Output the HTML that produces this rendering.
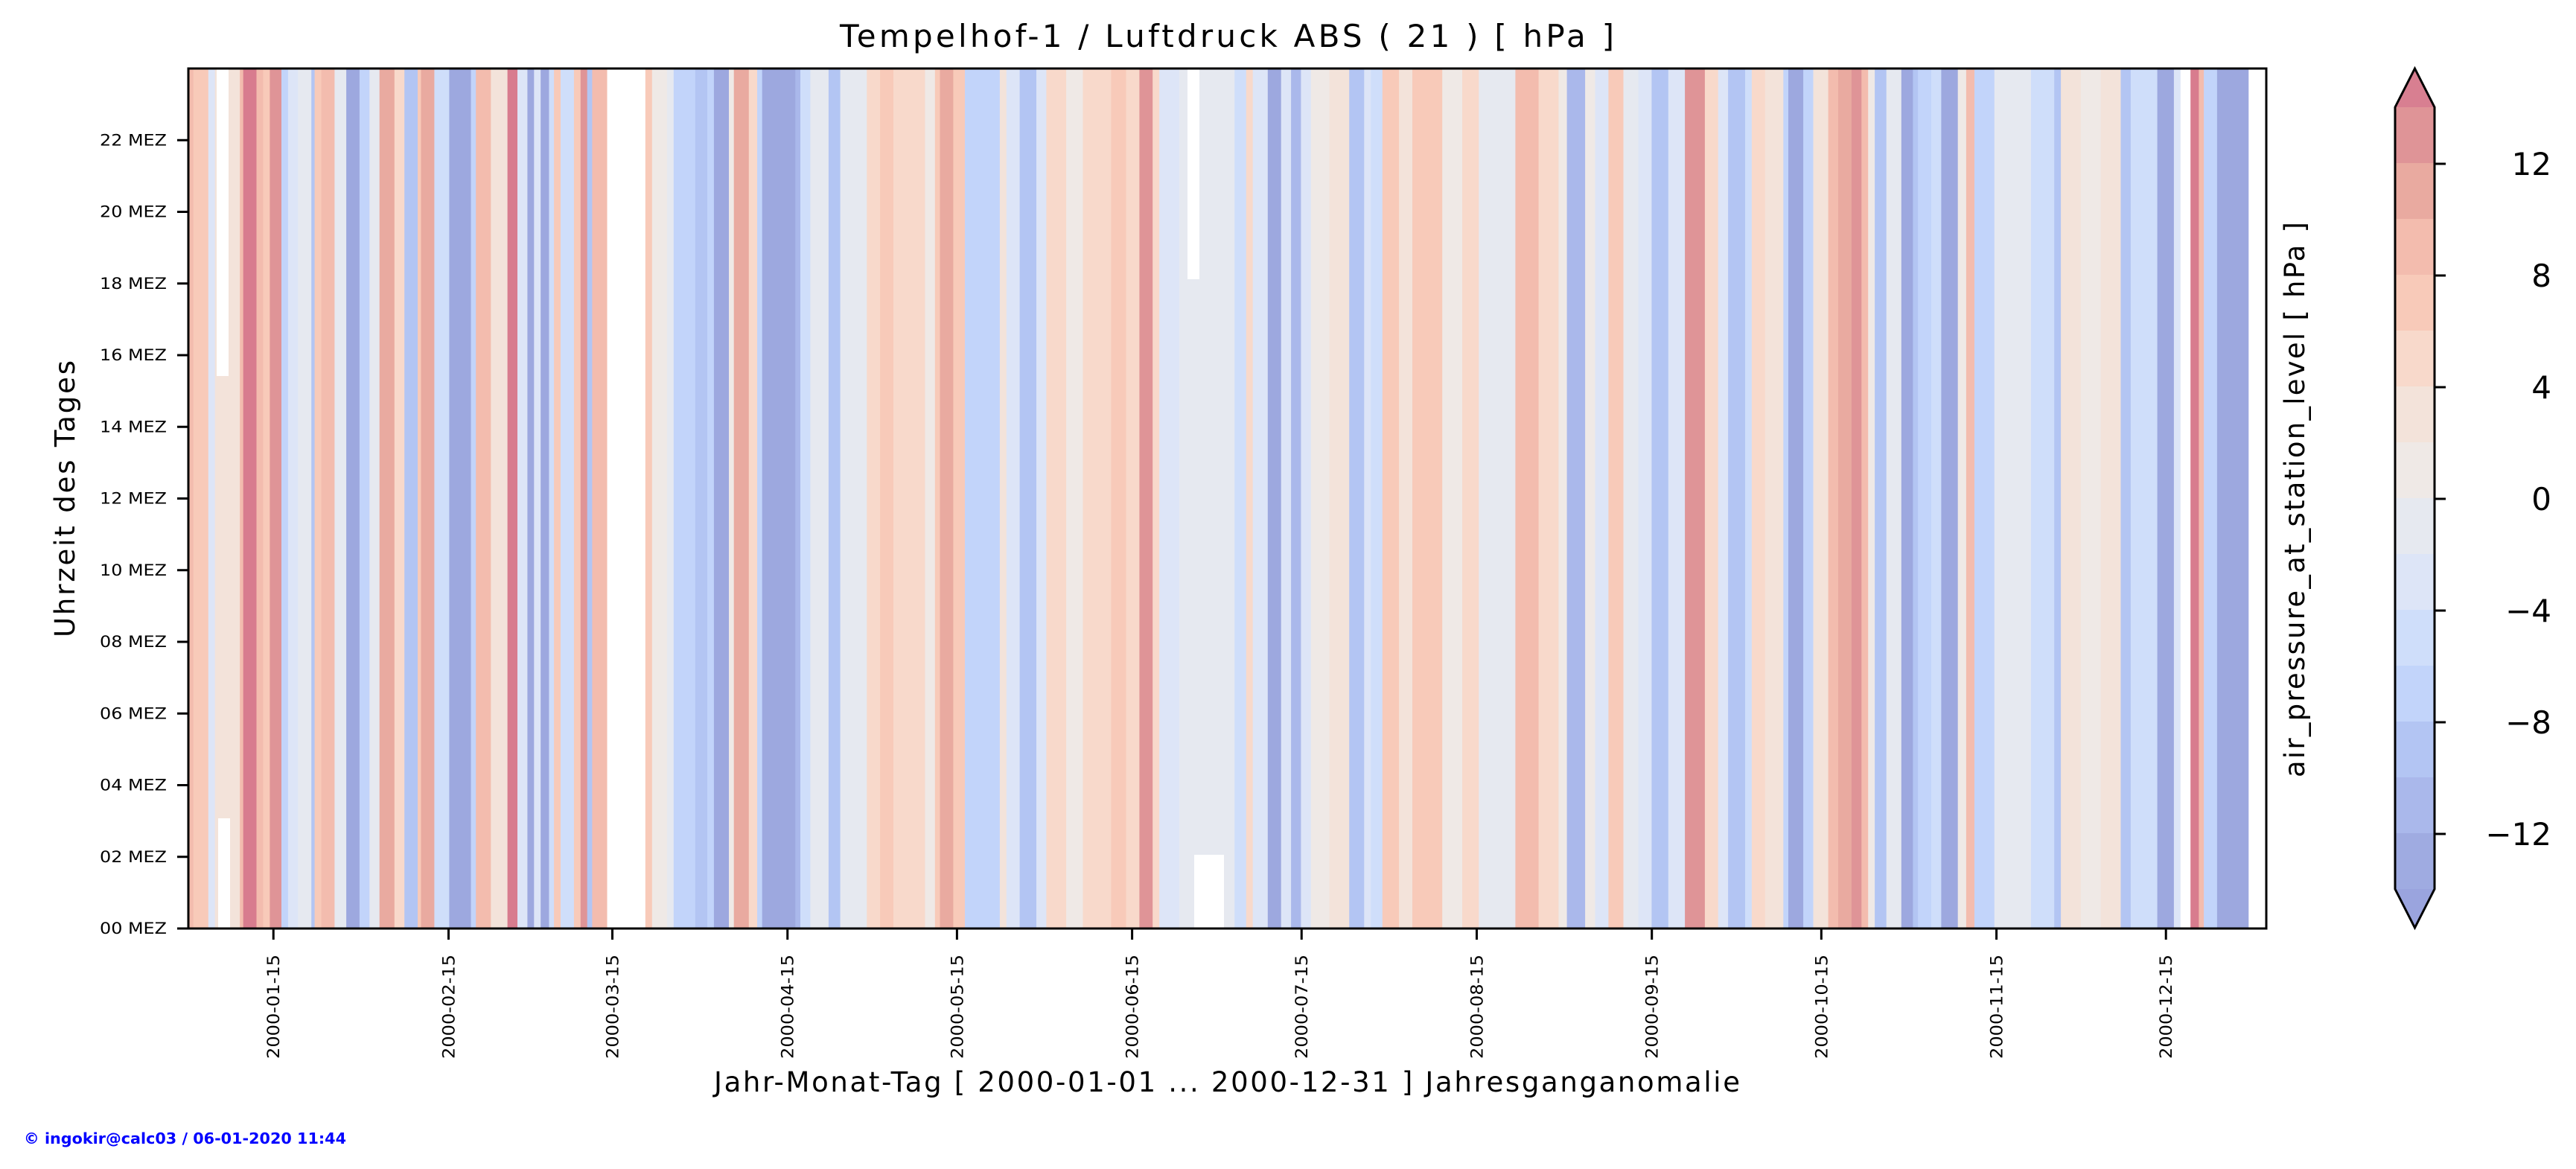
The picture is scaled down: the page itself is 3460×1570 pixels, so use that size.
<!DOCTYPE html>
<html><head><meta charset="utf-8"><style>
html,body{margin:0;padding:0;background:#fff;}
svg{display:block;font-family:"DejaVu Sans","Liberation Sans",sans-serif;}
</style></head><body>
<svg id="s" width="3460" height="1570" viewBox="0 0 3460 1570" xmlns="http://www.w3.org/2000/svg">
<g id="data"></g>
<rect x="253" y="92" width="2791" height="1155" fill="none" stroke="#000" stroke-width="3"/>
<text x="1648" y="63" font-size="42" text-anchor="middle" textLength="1040">Tempelhof-1 / Luftdruck ABS ( 21 ) [ hPa ]</text>
<text x="1648" y="1466" font-size="37" text-anchor="middle" textLength="1378">Jahr-Monat-Tag [ 2000-01-01 ... 2000-12-31 ] Jahresganganomalie</text>
<text transform="translate(100,670) rotate(-90)" font-size="37" text-anchor="middle" textLength="372">Uhrzeit des Tages</text>
<text transform="translate(3095,671) rotate(-90)" font-size="37" text-anchor="middle" textLength="746">air_pressure_at_station_level [ hPa ]</text>
<text x="32" y="1536" font-size="20" font-weight="bold" fill="#0000ff" textLength="433" lengthAdjust="spacingAndGlyphs">© ingokir@calc03 / 06-01-2020 11:44</text>
<g id="yt"></g><g id="xt"></g><g id="cb"></g>
</svg>
<script>
const NS="http://www.w3.org/2000/svg";
function el(p,t,a,txt){const e=document.createElementNS(NS,t);for(const k in a)e.setAttribute(k,a[k]);if(txt!==undefined)e.textContent=txt;p.appendChild(e);return e;}
const C={R7:"#d87c8e",R6:"#df9497",R5:"#e9aaa0",R4:"#f3bcae",R3:"#f8cab9",R2:"#f8d9cb",R1:"#f3e3da",R0:"#efe9e6",B0:"#e6e9f0",B1:"#dde5f7",B2:"#cfdefa",B3:"#c2d4fa",B4:"#b3c5f3",B5:"#aab8eb",B6:"#9da8df",W:"#ffffff"};
const S=[
[253,[[0,15,'R4'],[15,60,'R3'],[60,80,'B1'],[80,155,'R1'],[155,165,'R4'],[165,205,'R7'],[205,225,'R4'],[225,245,'R3'],[245,280,'R6'],[280,300,'B3'],[300,330,'B1'],[330,370,'B0'],[370,380,'B4'],[380,400,'R3'],[400,440,'R4'],[440,475,'B0'],[475,515,'B6'],[515,545,'B3'],[545,575,'B0'],[575,620,'R5'],[620,650,'R2'],[650,690,'B4'],[690,700,'R3'],[700,740,'R5'],[740,785,'B2'],[785,850,'B6'],[850,865,'B3'],[865,910,'R4'],[910,960,'R1'],[960,990,'R7'],[990,1020,'B1'],[1020,1040,'B6'],[1040,1060,'B1'],[1060,1085,'B6'],[1085,1100,'B2'],[1100,1120,'R3'],[1120,1160,'B2'],[1160,1180,'R3'],[1180,1200,'R6'],[1200,1215,'B4'],[1215,1260,'R4'],[1260,1375,'W'],[1375,1395,'R3'],[1395,1440,'R0'],[1440,1460,'B0'],[1460,1525,'B3'],[1525,1568,'B4']]],
[950,[[0,20,'B3'],[20,65,'B6'],[65,80,'R0'],[80,125,'R5'],[125,150,'R2'],[150,165,'B3'],[165,265,'B6'],[265,280,'B5'],[280,310,'B2'],[310,365,'B0'],[365,400,'B4'],[400,480,'B0'],[480,520,'R2'],[520,560,'R3'],[560,655,'R2'],[655,685,'R0'],[685,700,'R3'],[700,740,'R5'],[740,775,'R3'],[775,880,'B3'],[880,900,'R1'],[900,940,'B1'],[940,990,'B4'],[990,1020,'B1'],[1020,1080,'R2'],[1080,1130,'R0'],[1130,1215,'R2'],[1215,1260,'R3'],[1260,1300,'R2'],[1300,1340,'R6'],[1340,1360,'R2'],[1360,1420,'B1'],[1420,1568,'B0']]],
[1647,[[0,25,'B0'],[25,60,'B2'],[60,80,'R2'],[80,125,'B1'],[125,165,'B6'],[165,195,'B1'],[195,225,'B5'],[225,255,'B1'],[255,310,'R0'],[310,370,'R1'],[370,415,'B4'],[415,435,'B1'],[435,470,'B2'],[470,520,'R3'],[520,560,'R1'],[560,650,'R3'],[650,710,'R0'],[710,760,'R2'],[760,870,'B0'],[870,940,'R4'],[940,1000,'R2'],[1000,1025,'R0'],[1025,1080,'B5'],[1080,1110,'R0'],[1110,1150,'B1'],[1150,1195,'R3'],[1195,1240,'B0'],[1240,1280,'B1'],[1280,1330,'B4'],[1330,1380,'B1'],[1380,1440,'R6'],[1440,1480,'R2'],[1480,1510,'B1'],[1510,1568,'B4']]],
[2344,[[0,20,'B2'],[20,60,'R2'],[60,115,'R1'],[115,130,'B3'],[130,175,'B6'],[175,205,'B3'],[205,250,'R1'],[250,280,'R4'],[280,320,'R5'],[320,350,'R6'],[350,370,'R4'],[370,390,'R0'],[390,425,'B4'],[425,470,'B0'],[470,505,'B6'],[505,520,'B4'],[520,560,'B3'],[560,590,'B2'],[590,640,'B6'],[640,665,'R0'],[665,690,'R4'],[690,750,'B3'],[750,860,'B0'],[860,930,'B2'],[930,950,'B4'],[950,1010,'R1'],[1010,1070,'R0'],[1070,1130,'R1'],[1130,1160,'B4'],[1160,1240,'B2'],[1240,1290,'B6'],[1290,1310,'B1'],[1310,1340,'W'],[1340,1365,'R7'],[1365,1380,'R4'],[1380,1420,'B3'],[1420,1515,'B6'],[1515,1568,'W']]]
];
const D=document.getElementById("data");
for(const [b,segs] of S){for(const [a,e,c] of segs){const x0=b+a/2.24,x1=Math.min(3044,b+e/2.24);
el(D,"rect",{x:x0.toFixed(1),y:92,width:(x1-x0+0.6).toFixed(1),height:1155,fill:C[c]});}}
[[291,92,16,413],[293,1099,16,148],[1595,92,16,283],[1604,1148,40,99],[2929,1148,12,99]].forEach(r=>el(D,"rect",{x:r[0],y:r[1],width:r[2],height:r[3],fill:"#fff"}));
const YT=document.getElementById("yt");
for(let h=0;h<=22;h+=2){const y=1247-h*48.125;
el(YT,"line",{x1:238,x2:253,y1:y,y2:y,stroke:"#000","stroke-width":3});
el(YT,"text",{x:224,y:y+7,"font-size":21,"text-anchor":"end",textLength:90,lengthAdjust:"spacingAndGlyphs"},(h<10?"0"+h:h)+" MEZ");}
const XT=document.getElementById("xt");
const days=[14,45,74,105,135,166,196,227,258,288,319,349];
days.forEach((d,i)=>{const x=261+d*7.588;const m=(i+1<10?"0":"")+(i+1);
el(XT,"line",{x1:x,x2:x,y1:1247,y2:1262,stroke:"#000","stroke-width":3});
el(XT,"text",{transform:`translate(${x+8},1282) rotate(-90)`,"font-size":22,"text-anchor":"end",textLength:140,lengthAdjust:"spacingAndGlyphs"},"2000-"+m+"-15");});
const CB=document.getElementById("cb");
const bands=["#df9497","#e9aaa0","#f3bcae","#f8cab9","#f8d9cb","#f3e3da","#efe9e6","#e6e9f0","#dde5f7","#cfdefa","#c2d4fa","#b3c5f3","#aab8eb","#9fabe1"];
bands.forEach((c,i)=>el(CB,"rect",{x:3217,y:144+i*75,width:53,height:75.5,fill:c}));
el(CB,"polygon",{points:"3217,144 3243.5,92 3270,144",fill:"#d87f91"});
el(CB,"polygon",{points:"3217,1194 3243.5,1246 3270,1194",fill:"#9aa4de"});
el(CB,"polygon",{points:"3217,144 3243.5,92 3270,144 3270,1194 3243.5,1246 3217,1194",fill:"none",stroke:"#000","stroke-width":3});
[12,8,4,0,-4,-8,-12].forEach(v=>{const y=670-v*37.5;
el(CB,"line",{x1:3270,x2:3285,y1:y,y2:y,stroke:"#000","stroke-width":3});
el(CB,"text",{x:3427,y:y+15,"font-size":42,"text-anchor":"end"},(v<0?"\u2212"+(-v):""+v));});
</script>
</body></html>
